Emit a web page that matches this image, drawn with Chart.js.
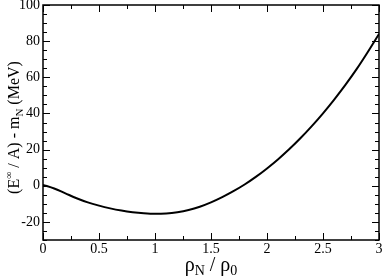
<!DOCTYPE html>
<html>
<head>
<meta charset="utf-8">
<script src="https://cdn.jsdelivr.net/npm/chart.js@4.4.1/dist/chart.umd.min.js"></script>
<style>
html,body{margin:0;padding:0;background:#fff;}
#wrap{width:382px;height:276px;}
</style>
</head>
<body>
<div id="wrap"><canvas id="c" width="382" height="276"></canvas></div>
<script>
const rho = [0,0.1,0.2,0.3,0.4,0.5,0.6,0.7,0.8,0.9,1.0,1.1,1.2,1.3,1.4,1.5,1.6,1.7,1.8,1.9,2.0,2.1,2.2,2.3,2.4,2.5,2.6,2.7,2.8,2.9,3.0];
const energy = [0.5,-1.5,-4.2,-6.9,-9.2,-11.0,-12.5,-13.7,-14.6,-15.2,-15.5,-15.3,-14.6,-13.4,-11.6,-9.2,-6.3,-3.0,0.7,4.9,9.6,14.7,20.3,26.4,33.0,40.1,47.7,55.8,64.5,74.0,84.0];
const xTicks = [0,0.5,1,1.5,2,2.5,3];
const yTicks = [-20,0,20,40,60,80,100];
const xTitle = {base:'ρ', sub:'N', mid:' / ρ', sub2:'0'};

const FONT = '"Liberation Serif", "DejaVu Serif", serif';

const framePlugin = {
  id:'frame',
  afterDraw(chart){
    const ctx = chart.ctx, a = chart.chartArea;
    const xs = chart.scales.x, ys = chart.scales.y;
    ctx.save();
    ctx.strokeStyle = '#000';
    ctx.lineWidth = 1;
    ctx.beginPath();
    for (let v = 0; v <= 3.0001; v += 0.25) {
      const px = Math.round(xs.getPixelForValue(v)) + 0.5;
      const major = Math.abs(v*2 - Math.round(v*2)) < 1e-6;
      const L = major ? 7 : 4;
      ctx.moveTo(px, a.bottom); ctx.lineTo(px, a.bottom - L);
      ctx.moveTo(px, a.top); ctx.lineTo(px, a.top + L);
    }
    for (let v = -30; v <= 100.0001; v += 5) {
      const py = Math.round(ys.getPixelForValue(v)) + 0.5;
      const major = (v % 20 === 0);
      const L = major ? 7 : 4;
      ctx.moveTo(a.left, py); ctx.lineTo(a.left + L, py);
      ctx.moveTo(a.right, py); ctx.lineTo(a.right - L, py);
    }
    ctx.stroke();
    ctx.lineWidth = 1.5;
    ctx.strokeRect(a.left, a.top, a.right - a.left, a.bottom - a.top);

    ctx.fillStyle = '#000';
    ctx.textBaseline = 'alphabetic';
    ctx.textAlign = 'left';
    const big = '20px ' + FONT, small = '14px ' + FONT;
    ctx.font = big; const w1 = ctx.measureText(xTitle.base).width;
    ctx.font = small; const w2 = ctx.measureText(xTitle.sub).width;
    ctx.font = big; const w3 = ctx.measureText(xTitle.mid).width;
    ctx.font = small; const w4 = ctx.measureText(xTitle.sub2).width;
    const total = w1+w2+w3+w4;
    let x0 = (a.left + a.right)/2 - total/2;
    const yb = 271;
    ctx.font = big; ctx.fillText(xTitle.base, x0, yb); x0 += w1;
    ctx.font = small; ctx.fillText(xTitle.sub, x0, yb + 4); x0 += w2;
    ctx.font = big; ctx.fillText(xTitle.mid, x0, yb); x0 += w3;
    ctx.font = small; ctx.fillText(xTitle.sub2, x0, yb + 4);

    const parts = [
      {t:'(E', f:'16px '+FONT, dy:0},
      {t:'∞', f:'10px '+FONT, dy:-7},
      {t:' / A) - m', f:'16px '+FONT, dy:0},
      {t:'N', f:'11px '+FONT, dy:4},
      {t:' (MeV)', f:'16px '+FONT, dy:0}
    ];
    let tw = 0;
    parts.forEach(p => { ctx.font = p.f; p.w = ctx.measureText(p.t).width; tw += p.w; });
    ctx.translate(19, (a.top + a.bottom)/2 + 5);
    ctx.rotate(-Math.PI/2);
    let cx = -tw/2;
    parts.forEach(p => { ctx.font = p.f; ctx.fillText(p.t, cx, p.dy); cx += p.w; });
    ctx.restore();
  }
};

new Chart(document.getElementById('c'), {
  type: 'line',
  data: {
    datasets: [{
      data: rho.map((r,i) => ({x:r, y:energy[i]})),
      borderColor: '#000',
      borderWidth: 2,
      pointRadius: 0,
      cubicInterpolationMode: 'monotone',
      fill: false
    }]
  },
  options: {
    responsive: false,
    animation: false,
    devicePixelRatio: 1,
    layout: { padding: { left: 0, right: 3, top: 5, bottom: 0 } },
    plugins: { legend: { display: false }, tooltip: { enabled: false } },
    scales: {
      x: {
        type: 'linear', min: 0, max: 3,
        afterFit(s){ s.height = 36; s.paddingLeft = 0; s.paddingRight = 0; },
        afterBuildTicks(s){ s.ticks = xTicks.map(v => ({value:v})); },
        grid: { display: false, drawTicks: false, tickLength: 0 },
        border: { display: false },
        ticks: {
          padding: 1,
          color: '#000',
          font: { family: FONT, size: 14 },
          maxRotation: 0,
          callback: v => String(v)
        }
      },
      y: {
        type: 'linear', min: -30, max: 100,
        afterFit(s){ s.width = 43; s.paddingTop = 0; s.paddingBottom = 0; },
        afterBuildTicks(s){ s.ticks = yTicks.map(v => ({value:v})); },
        grid: { display: false, drawTicks: false, tickLength: 0 },
        border: { display: false },
        ticks: {
          padding: 3,
          color: '#000',
          font: { family: FONT, size: 14 },
          callback: v => String(v)
        }
      }
    }
  },
  plugins: [framePlugin]
});
</script>
</body>
</html>
